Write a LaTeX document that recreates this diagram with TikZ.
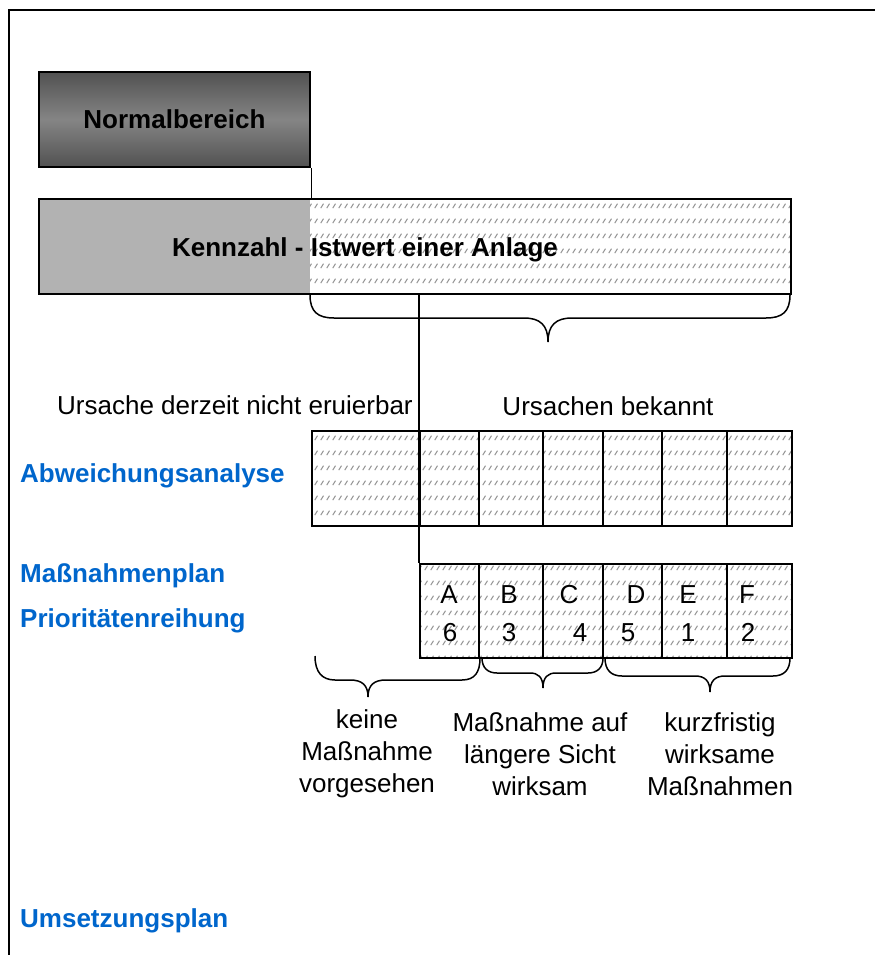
\documentclass[tikz,border=0pt]{standalone}
\usepackage{fontspec}
\setmainfont{Liberation Sans}
\usetikzlibrary{patterns}
\definecolor{kopfblau}{RGB}{0,102,204}
\pgfdeclareverticalshading{normschatten}{100bp}{%
  color(0bp)=(black!82); color(25bp)=(black!68); color(50bp)=(black!48);
  color(75bp)=(black!68); color(100bp)=(black!82)}
\pgfdeclarepatternformonly{schraffur}{\pgfpointorigin}{\pgfpoint{5.5pt}{14.5pt}}{\pgfpoint{5.5pt}{14.5pt}}{%
  \pgfsetlinewidth{1.1pt}%
  \pgfpathmoveto{\pgfpoint{0.8pt}{5pt}}%
  \pgfpathlineto{\pgfpoint{3.8pt}{9.5pt}}%
  \pgfusepath{stroke}%
}
\begin{document}
\begin{tikzpicture}[x=1pt,y=-1pt,
    schrift/.style={font=\fontsize{26}{32}\selectfont},
    fett/.style={font=\bfseries\fontsize{26}{32}\selectfont},
    kopf/.style={fett,text=kopfblau,anchor=base west,inner sep=0pt},
    schraff/.style={pattern=schraffur,pattern color=black!42},
    rahmen/.style={line width=2.5pt},
    linie/.style={line width=1.5pt},
    klammer/.style={line width=1.5pt}]
    \useasboundingbox (0,0) rectangle (875,955);
    %Rahmen links und oben
    \draw[line width=2pt] (9,955) -- (9,10) -- (875,10);
    %Normalbereich
    \node[draw,rahmen,shading=normschatten,shading angle=0,
          minimum width=271pt,minimum height=95pt,inner sep=0pt,fett] (norm) at (174.5,119.5) {Normalbereich};
    %Kennzahl - Balken, links grau, rechts schraffiert
    \fill[black!30] (39,199) rectangle (310,294);
    \fill[schraff] (310,199) rectangle (791,294);
    \node[draw,rahmen,minimum width=752pt,minimum height=95pt,inner sep=0pt] (kenn) at (415,246.5) {};
    \node[fett,anchor=base,inner sep=0pt] (kenntext) at (365,256) {Kennzahl - Istwert einer Anlage};
    \draw[linie] (norm.south east) -- (norm.south east |- kenn.north);
    %Klammer unter dem Istwert
    \draw[klammer] (310,295) .. controls (310,312) and (318,318) .. (334,318) -- (524,318)
        .. controls (540,318) and (548,325) .. (548,342) .. controls (548,325) and (556,318) .. (572,318)
        -- (766,318) .. controls (782,318) and (790,312) .. (790,295);
    %Ursachen
    \node[schrift,anchor=base west,inner sep=0pt] (unbekannt) at (57,414) {Ursache derzeit nicht eruierbar};
    \node[schrift,anchor=base,inner sep=0pt] (bekannt) at (608,415) {Ursachen bekannt};
    %Abweichungsanalyse - Balken
    \node[draw,rahmen,schraff,minimum width=480pt,minimum height=95pt,inner sep=0pt] (abw) at (552,478.5) {};
    \draw[line width=2pt] (420,431) -- (420,526) (479,431) -- (479,526) (543,431) -- (543,526)
        (603,431) -- (603,526) (662,431) -- (662,526) (727,431) -- (727,526);
    %Prioritaetenreihung - Balken
    \node[draw,rahmen,schraff,minimum width=372pt,minimum height=94pt,inner sep=0pt] (prio) at (606,611) {};
    \draw[line width=2pt] (479,564) -- (479,658) (543,564) -- (543,658)
        (603,564) -- (603,658) (662,564) -- (662,658) (727,564) -- (727,658);
    \draw[linie] (kenn.south -| prio.north west) -- (prio.north west);
    %Buchstaben und Rangzahlen
    \node[schrift,anchor=base,inner sep=0pt] (ma) at (449,603) {A};
    \node[schrift,anchor=base,inner sep=0pt] (mb) at (509,603) {B};
    \node[schrift,anchor=base,inner sep=0pt] (mc) at (569,603) {C};
    \node[schrift,anchor=base,inner sep=0pt] (md) at (636,603) {D};
    \node[schrift,anchor=base,inner sep=0pt] (me) at (688,603) {E};
    \node[schrift,anchor=base,inner sep=0pt] (mf) at (747,603) {F};
    \node[schrift,anchor=base,inner sep=0pt] (ra) at (450,641) {6};
    \node[schrift,anchor=base,inner sep=0pt] (rb) at (509,641) {3};
    \node[schrift,anchor=base,inner sep=0pt] (rc) at (580,641) {4};
    \node[schrift,anchor=base,inner sep=0pt] (rd) at (628,641) {5};
    \node[schrift,anchor=base,inner sep=0pt] (re) at (688,641) {1};
    \node[schrift,anchor=base,inner sep=0pt] (rf) at (748,641) {2};
    %Klammern unter den Massnahmen
    \draw[klammer] (315,656) .. controls (315,672) and (322,680) .. (335,680) -- (350,680)
        .. controls (362,680) and (368,685) .. (368,697) .. controls (368,685) and (374,680) .. (386,680)
        -- (462,680) .. controls (475,680) and (480,672) .. (480,658);
    \draw[klammer] (482,658) .. controls (482,668) and (488,673) .. (497,673) -- (530,673)
        .. controls (538,673) and (543,677) .. (543,688) .. controls (543,677) and (548,673) .. (556,673)
        -- (588,673) .. controls (597,673) and (603,668) .. (603,658);
    \draw[klammer] (605,658) .. controls (605,670) and (611,676) .. (622,676) -- (695,676)
        .. controls (705,676) and (710,681) .. (710,692) .. controls (710,681) and (715,676) .. (725,676)
        -- (773,676) .. controls (784,676) and (790,670) .. (790,658);
    \node[schrift,align=center,inner sep=0pt] (keine) at (367,754) {keine\\Maßnahme\\vorgesehen};
    \node[schrift,align=center,inner sep=0pt] (lang) at (540,754) {Maßnahme auf\\längere Sicht\\wirksam};
    \node[schrift,align=center,inner sep=0pt] (kurz) at (720,754) {kurzfristig\\wirksame\\Maßnahmen};
    %blaue Ueberschriften
    \node[kopf] (abwtext) at (20,482) {Abweichungsanalyse};
    \node[kopf] (plantext) at (20,582) {Maßnahmenplan};
    \node[kopf] (priotext) at (20,627) {Prioritätenreihung};
    \node[kopf] (umsetztext) at (20,927) {Umsetzungsplan};
\end{tikzpicture}
\end{document}
